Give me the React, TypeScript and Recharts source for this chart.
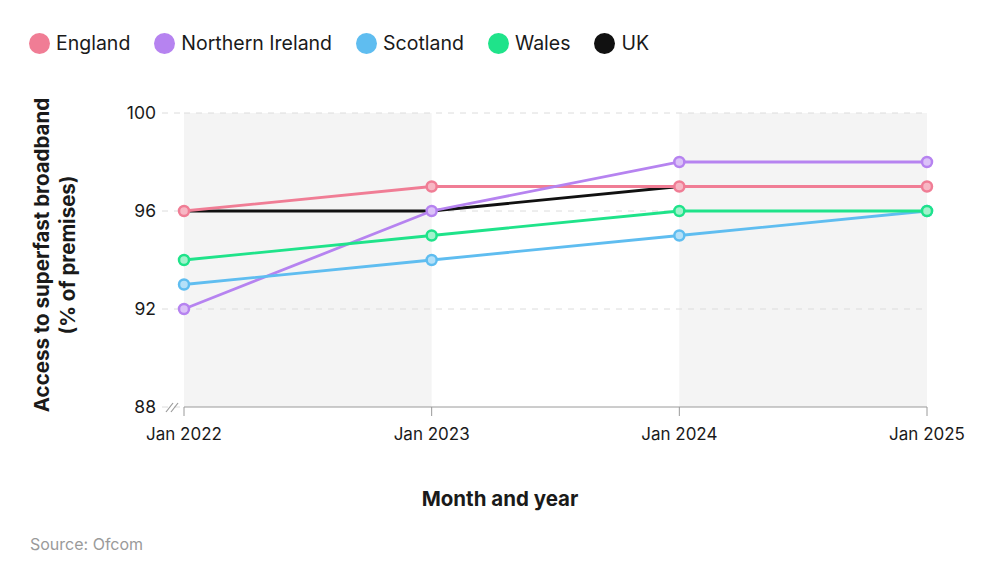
import React from "react";
import {
  LineChart,
  Line,
  XAxis,
  YAxis,
  ReferenceArea,
  ReferenceLine,
} from "recharts";

const months = ["Jan 2022", "Jan 2023", "Jan 2024", "Jan 2025"];
const england = [96, 97, 97, 97];
const northernIreland = [92, 96, 98, 98];
const scotland = [93, 94, 95, 96];
const wales = [94, 95, 96, 96];
const uk = [96, 96, 97, 97];
const yTicks = [88, 92, 96, 100];

const series = [
  { key: "uk", name: "UK", color: "#111111", tint: "#555555", values: uk, dots: false },
  { key: "england", name: "England", color: "#f07d95", tint: "#f7b7c4", values: england, dots: true },
  { key: "northernIreland", name: "Northern Ireland", color: "#b683f0", tint: "#dbc2f8", values: northernIreland, dots: true },
  { key: "scotland", name: "Scotland", color: "#5fbdf0", tint: "#b4e0f8", values: scotland, dots: true },
  { key: "wales", name: "Wales", color: "#1fe38a", tint: "#a2f2cc", values: wales, dots: true },
];

const legendOrder = ["england", "northernIreland", "scotland", "wales", "uk"];

const data = months.map((m, i) => {
  const row: Record<string, string | number> = { month: m };
  series.forEach((s) => (row[s.key] = s.values[i]));
  return row;
});

const FONT = "Inter, 'Liberation Sans', Arial, sans-serif";

export default function App() {
  return (
    <div
      style={{
        position: "absolute",
        left: 0,
        top: 0,
        width: 1000,
        height: 580,
        background: "#fff",
        fontFamily: FONT,
        color: "#1a1a1a",
      }}
    >
      {/* legend */}
      <div
        style={{
          position: "absolute",
          left: 29,
          top: 31,
          display: "flex",
          alignItems: "center",
          fontSize: 19.5,
        }}
      >
        {legendOrder.map((k) => {
          const s = series.find((x) => x.key === k)!;
          return (
            <div key={k} style={{ display: "flex", alignItems: "center", marginRight: 24 }}>
              <span
                style={{
                  width: 21,
                  height: 21,
                  borderRadius: "50%",
                  background: s.color,
                  display: "inline-block",
                  marginRight: 6,
                }}
              />
              <span>{s.name}</span>
            </div>
          );
        })}
      </div>

      <LineChart
        width={1000}
        height={580}
        data={data}
        margin={{ top: 113, right: 73, left: 0, bottom: 143 }}
        style={{ position: "absolute", left: 0, top: 0 }}
      >
        <ReferenceArea x1="Jan 2022" x2="Jan 2023" y1={88} y2={100} fill="#f4f4f4" fillOpacity={1} stroke="none" />
        <ReferenceArea x1="Jan 2024" x2="Jan 2025" y1={88} y2={100} fill="#f4f4f4" fillOpacity={1} stroke="none" />
        {[92, 96, 100].map((v) => (
          <ReferenceLine key={v} y={v} stroke="#dcdcdc" strokeDasharray="6 6" strokeWidth={1} />
        ))}
        <XAxis
          dataKey="month"
          height={30}
          axisLine={{ stroke: "#9a9a9a" }}
          tickLine={{ stroke: "#9a9a9a" }}
          tickSize={9}
          tickMargin={12}
          tick={{ fill: "#1a1a1a", fontSize: 17, fontFamily: FONT }}
          interval={0}
        />
        <YAxis
          width={184}
          domain={[88, 100]}
          ticks={yTicks}
          axisLine={false}
          tickLine={{ stroke: "#dcdcdc", strokeDasharray: "6 6" }}
          tickSize={22}
          tickMargin={6}
          tick={{ fill: "#1a1a1a", fontSize: 17.5, fontFamily: FONT }}
        />
        {series.map((s) => (
          <Line
            key={s.key}
            dataKey={s.key}
            name={s.name}
            type="linear"
            stroke={s.color}
            strokeWidth={2.8}
            dot={s.dots ? { r: 5, stroke: s.color, strokeWidth: 2.5, fill: s.tint, fillOpacity: 1 } : false}
            activeDot={false}
            isAnimationActive={false}
          />
        ))}
      </LineChart>

      {/* axis break mark */}
      <svg style={{ position: "absolute", left: 164, top: 400 }} width={16} height={14}>
        <line x1={2} y1={12} x2={9} y2={3} stroke="#9a9a9a" strokeWidth={1.2} />
        <line x1={7} y1={12} x2={14} y2={3} stroke="#9a9a9a" strokeWidth={1.2} />
      </svg>

      {/* y axis title */}
      <div
        style={{
          position: "absolute",
          left: 55,
          top: 255,
          transform: "translate(-50%, -50%) rotate(-90deg)",
          whiteSpace: "nowrap",
          textAlign: "center",
          fontWeight: 700,
          fontSize: 20.5,
          lineHeight: "26px",
        }}
      >
        Access to superfast broadband
        <br />
        (% of premises)
      </div>

      {/* x axis title */}
      <div
        style={{
          position: "absolute",
          left: 500,
          top: 498,
          transform: "translate(-50%, -50%)",
          fontWeight: 700,
          fontSize: 20.5,
          whiteSpace: "nowrap",
        }}
      >
        Month and year
      </div>

      <div
        style={{
          position: "absolute",
          left: 30,
          top: 534,
          fontSize: 16,
          color: "#9a9a9a",
        }}
      >
        Source: Ofcom
      </div>
    </div>
  );
}
